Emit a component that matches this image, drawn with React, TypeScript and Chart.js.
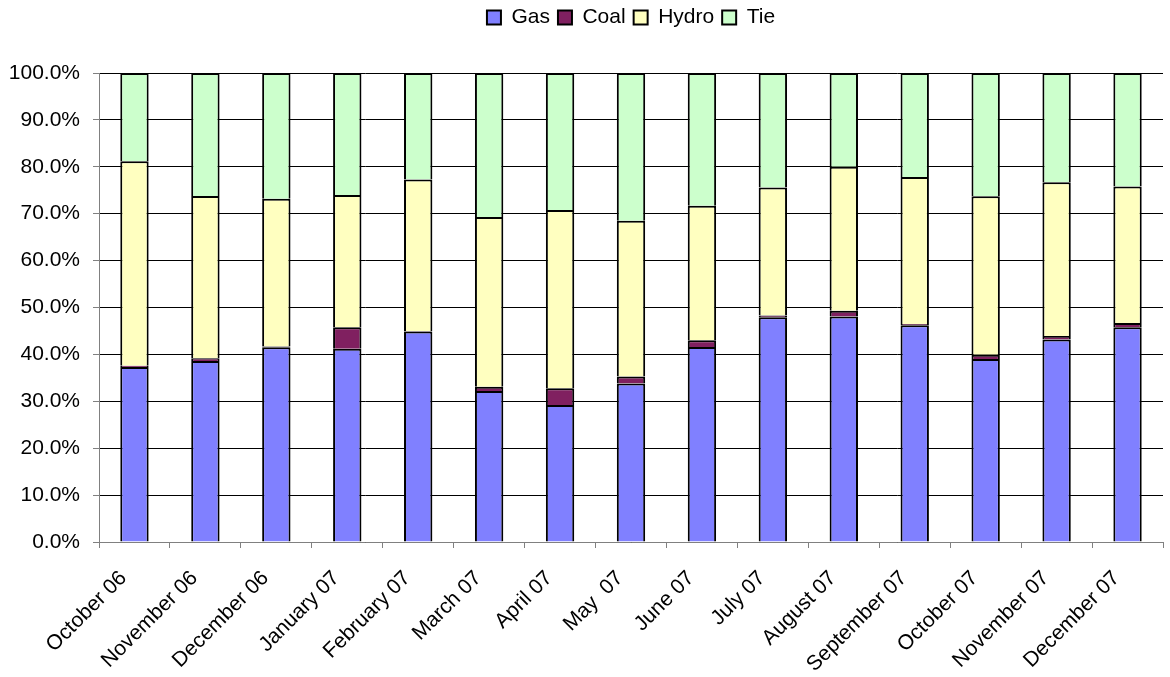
import React, { useEffect, useRef } from "react";
import { Chart, registerables } from "chart.js";

Chart.register(...registerables);

const categories = [
  "October 06", "November 06", "December 06", "January 07", "February 07",
  "March 07", "April 07", "May  07", "June 07", "July 07", "August 07",
  "September 07", "October 07", "November 07", "December 07",
];

// Monthly generation share by source, in percent
const gas = [37.3, 38.6, 41.5, 41.2, 44.9, 32.2, 29.2, 33.8, 41.6, 47.9, 48.1, 46.2, 39.0, 43.2, 45.8];
const coal = [0.3, 0.6, 0.2, 4.6, 0.1, 0.9, 3.6, 1.5, 1.4, 0.4, 1.2, 0.3, 0.9, 0.7, 0.9];
const hydro = [43.6, 34.6, 31.5, 28.2, 32.3, 36.2, 38.0, 33.2, 28.7, 27.3, 30.7, 31.3, 33.8, 32.8, 29.1];
const tie = [18.8, 26.2, 26.8, 26.0, 22.7, 30.7, 29.2, 31.5, 28.3, 24.4, 20.0, 22.2, 26.3, 23.3, 24.2];

const yTicks = [0, 10, 20, 30, 40, 50, 60, 70, 80, 90, 100];

const FONT = "'Liberation Sans', Arial, sans-serif";

// Keep the legend at the very top and centre it over the plot area
const legendPlace = {
  id: "legendPlace",
  afterLayout(chart: any) {
    const lg = chart.legend;
    if (!lg) return;
    const plotCenter = (chart.chartArea.left + chart.chartArea.right) / 2;
    const boxCenter = (lg.left + lg.right) / 2;
    const d = plotCenter - boxCenter;
    lg.left += d;
    lg.right += d;
    const h = lg.bottom - lg.top;
    lg.top = -1;
    lg.bottom = lg.top + h;
  },
};

export default function App() {
  const ref = useRef<HTMLCanvasElement | null>(null);

  useEffect(() => {
    document.body.style.margin = "0";
    if (!ref.current) return;
    const common = { borderColor: "#000000", borderWidth: 2, barPercentage: 0.4, categoryPercentage: 1 };
    const chart = new Chart(ref.current, {
      type: "bar",
      data: {
        labels: categories,
        datasets: [
          { label: "Gas", data: gas, backgroundColor: "#8080FF", ...common },
          { label: "Coal", data: coal, backgroundColor: "#802060", ...common },
          { label: "Hydro", data: hydro, backgroundColor: "#FFFFC0", ...common },
          { label: "Tie", data: tie, backgroundColor: "#CCFFCC", ...common },
        ],
      },
      plugins: [legendPlace],
      options: {
        animation: false,
        responsive: false,
        maintainAspectRatio: false,
        layout: { padding: { left: 0, right: 7, top: 0, bottom: 0 } },
        plugins: {
          tooltip: { enabled: false },
          legend: {
            position: "top",
            labels: {
              color: "#000000",
              font: { family: FONT, size: 21 },
              boxWidth: 14,
              boxHeight: 14,
              padding: 8,
            },
          },
        },
        scales: {
          x: {
            stacked: true,
            offset: true,
            grid: {
              display: true,
              drawOnChartArea: false,
              offset: true,
              tickLength: 6,
              color: "#808080",
            },
            border: { color: "#808080", width: 1 },
            ticks: {
              color: "#000000",
              font: { family: FONT, size: 21 },
              minRotation: 45,
              maxRotation: 45,
              autoSkip: false,
              padding: 18,
              labelOffset: -11,
            },
            afterFit(scale: any) {
              scale.height = 135;
              scale.paddingLeft = 0;
              scale.paddingRight = 0;
            },
          },
          y: {
            stacked: true,
            min: 0,
            max: 100,
            afterBuildTicks(scale: any) {
              scale.ticks = yTicks.map((v) => ({ value: v }));
            },
            grid: {
              color: "#000000",
              lineWidth: 1,
              tickLength: 6,
              tickColor: "#808080",
            },
            border: { color: "#808080", width: 1 },
            ticks: {
              color: "#000000",
              font: { family: FONT, size: 21 },
              padding: 13,
              callback: (v: any) => Number(v).toFixed(1) + "%",
            },
            afterFit(scale: any) {
              scale.width = 99;
              scale.paddingTop = 73;
              scale.paddingBottom = 0;
            },
          },
        },
      },
    });
    return () => chart.destroy();
  }, []);

  return (
    <div style={{ width: 1170, height: 677, background: "#ffffff" }}>
      <canvas ref={ref} width={1170} height={677} style={{ display: "block" }} />
    </div>
  );
}
